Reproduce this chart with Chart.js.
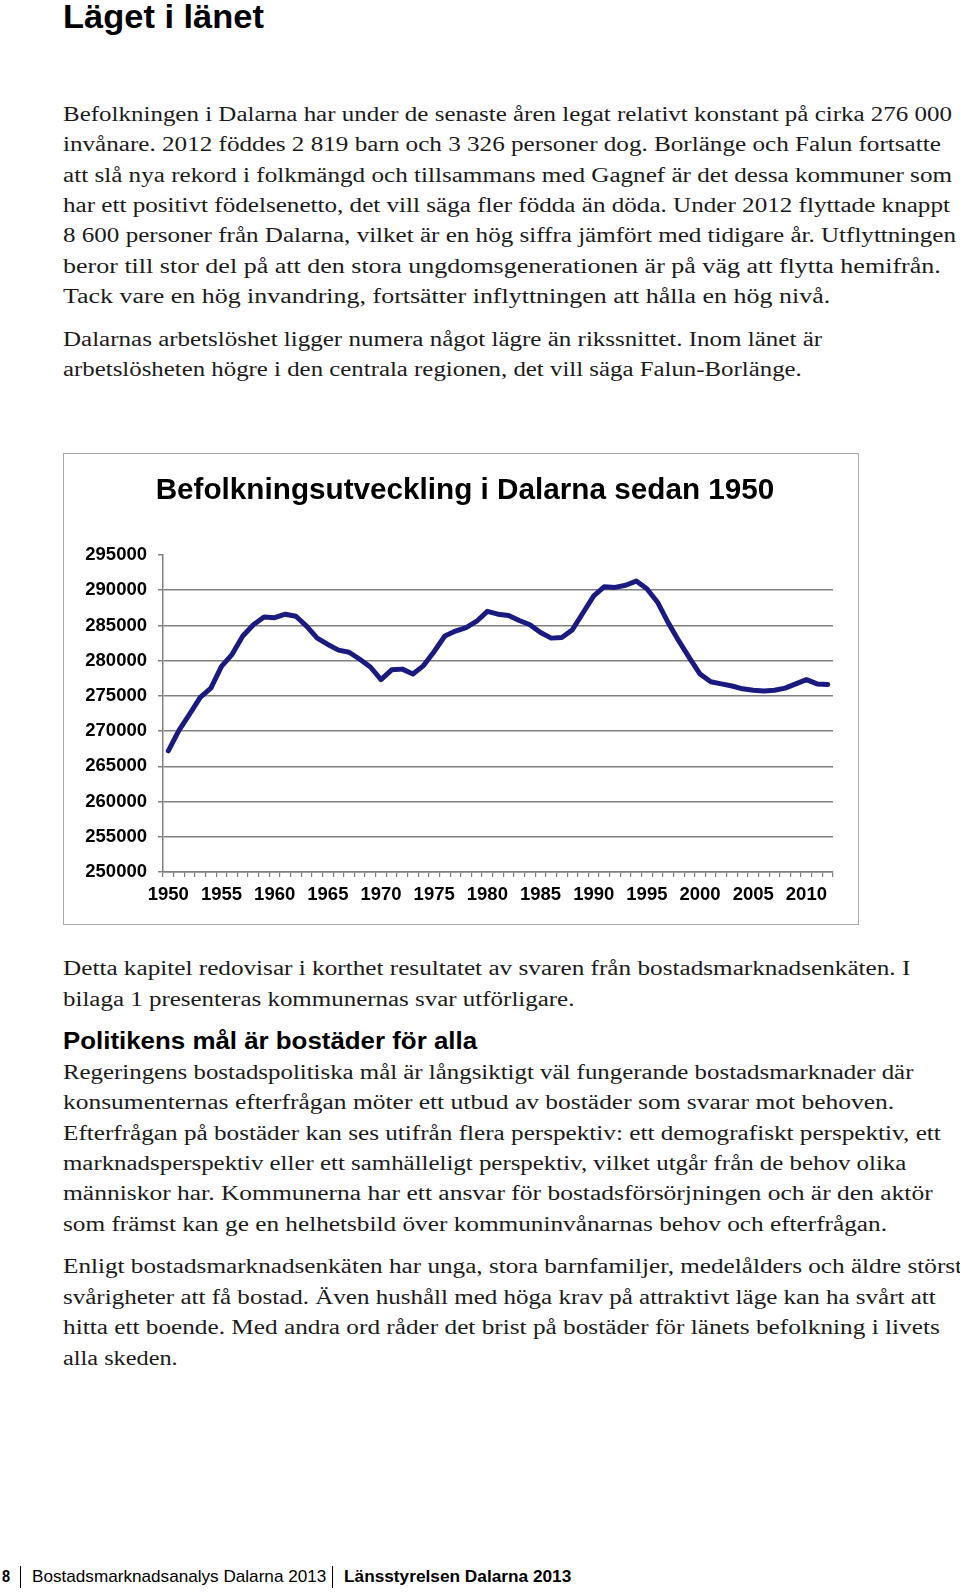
<!DOCTYPE html>
<html><head><meta charset="utf-8">
<script src="https://cdn.jsdelivr.net/npm/chart.js@4.4.1/dist/chart.umd.min.js"></script>
<style>
html,body{margin:0;padding:0;background:#fff;}
body{width:960px;height:1592px;position:relative;overflow:hidden;}
.t{position:absolute;white-space:nowrap;transform-origin:0 50%;color:#1b1b1b;height:30px;line-height:30px;}
.serif{font-family:"Liberation Serif","Times New Roman",serif;font-size:20.5px;}
.h1{font-family:"Liberation Sans",Arial,sans-serif;font-weight:bold;font-size:34px;color:#000;}
.h2{font-family:"Liberation Sans",Arial,sans-serif;font-weight:bold;font-size:23px;color:#000;}
.ft{font-family:"Liberation Sans",Arial,sans-serif;font-size:17px;color:#000;}
.ftb{font-family:"Liberation Sans",Arial,sans-serif;font-size:17px;font-weight:bold;color:#000;}
.bar{position:absolute;width:1px;background:#000;}
#box{position:absolute;left:63px;top:453px;width:794px;height:470px;border:1px solid #a8a8a8;}
#c{display:block;}
</style></head><body>
<div id="box"><canvas id="c" width="794" height="470"></canvas></div>
<div class="bar" style="left:20px;top:1566px;height:22px"></div>
<div class="bar" style="left:332px;top:1566px;height:22px"></div>
<script>
// ---- chart data ----
const years = [1950,1951,1952,1953,1954,1955,1956,1957,1958,1959,
  1960,1961,1962,1963,1964,1965,1966,1967,1968,1969,
  1970,1971,1972,1973,1974,1975,1976,1977,1978,1979,
  1980,1981,1982,1983,1984,1985,1986,1987,1988,1989,
  1990,1991,1992,1993,1994,1995,1996,1997,1998,1999,
  2000,2001,2002,2003,2004,2005,2006,2007,2008,2009,
  2010,2011,2012];
const population = [267200,270100,272400,274800,276100,279200,280900,283500,285100,286200,
  286100,286600,286300,284900,283200,282300,281500,281200,280200,279100,
  277300,278700,278800,278100,279300,281300,283500,284200,284700,285600,
  287000,286600,286400,285700,285100,284000,283200,283300,284400,286800,
  289200,290500,290400,290700,291300,290200,288300,285400,282800,280400,
  278100,277000,276700,276400,276000,275800,275700,275800,276100,276700,
  277300,276700,276600];
const xTickLabels = [1950,1955,1960,1965,1970,1975,1980,1985,1990,1995,2000,2005,2010];
const yTickValues = [250000,255000,260000,265000,270000,275000,280000,285000,290000,295000];
const chartTitle = 'Befolkningsutveckling i Dalarna sedan 1950';

// ---- page text ----
const S = 960/946;
const lines = [
 ['h1','Läget i länet',62,16,260],
 ['serif','Befolkningen i Dalarna har under de senaste åren legat relativt konstant på cirka 276 000',62,112,938],
 ['serif','invånare. 2012 föddes 2 819 barn och 3 326 personer dog. Borlänge och Falun fortsatte',62,142,927],
 ['serif','att slå nya rekord i folkmängd och tillsammans med Gagnef är det dessa kommuner som',62,172,938],
 ['serif','har ett positivt födelsenetto, det vill säga fler födda än döda. Under 2012 flyttade knappt',62,202,936],
 ['serif','8 600 personer från Dalarna, vilket är en hög siffra jämfört med tidigare år. Utflyttningen',62,232,942],
 ['serif','beror till stor del på att den stora ungdomsgenerationen är på väg att flytta hemifrån.',62,262,927],
 ['serif','Tack vare en hög invandring, fortsätter inflyttningen att hålla en hög nivå.',62,292,818],
 ['serif','Dalarnas arbetslöshet ligger numera något lägre än rikssnittet. Inom länet är',62,334,810],
 ['serif','arbetslösheten högre i den centrala regionen, det vill säga Falun-Borlänge.',62,364,790],
 ['serif','Detta kapitel redovisar i korthet resultatet av svaren från bostadsmarknadsenkäten. I',62,954,897],
 ['serif','bilaga 1 presenteras kommunernas svar utförligare.',62,984,566],
 ['h2','Politikens mål är bostäder för alla',62,1026,470],
 ['serif','Regeringens bostadspolitiska mål är långsiktigt väl fungerande bostadsmarknader där',62,1056,900],
 ['serif','konsumenternas efterfrågan möter ett utbud av bostäder som svarar mot behoven.',62,1086,881],
 ['serif','Efterfrågan på bostäder kan ses utifrån flera perspektiv: ett demografiskt perspektiv, ett',62,1116,927],
 ['serif','marknadsperspektiv eller ett samhälleligt perspektiv, vilket utgår från de behov olika',62,1146,893],
 ['serif','människor har. Kommunerna har ett ansvar för bostadsförsörjningen och är den aktör',62,1176,919],
 ['serif','som främst kan ge en helhetsbild över kommuninvånarnas behov och efterfrågan.',62,1206,874],
 ['serif','Enligt bostadsmarknadsenkäten har unga, stora barnfamiljer, medelålders och äldre störst',62,1248,948],
 ['serif','svårigheter att få bostad. Även hushåll med höga krav på attraktivt läge kan ha svårt att',62,1278,922],
 ['serif','hitta ett boende. Med andra ord råder det brist på bostäder för länets befolkning i livets',62,1308,926],
 ['serif','alla skeden.',62,1338,175],
 ['ftb','8',2,1554,10],
 ['ft','Bostadsmarknadsanalys Dalarna 2013',32,1554,322],
 ['ftb','Länsstyrelsen Dalarna 2013',339,1554,563]
];
lines.forEach(([cls,txt,x0,yc,x1])=>{
  const d=document.createElement('div');
  d.className='t '+cls;
  d.textContent=txt;
  d.style.left=(x0*S)+'px';
  d.style.top=(yc*S-15)+'px';
  document.body.appendChild(d);
  const w=d.getBoundingClientRect().width;
  const target=(x1-x0)*S;
  d.style.transform='scaleX('+(target/w).toFixed(4)+')';
});

// ---- chart ----
const gridGray = '#808080';
const titlePlugin = {
  id: 'pageTitle',
  afterDraw(chart) {
    const ctx = chart.ctx;
    ctx.save();
    ctx.font = 'bold 29.7px "Liberation Sans", Arial, sans-serif';
    ctx.fillStyle = '#000';
    ctx.textAlign = 'center';
    ctx.textBaseline = 'middle';
    ctx.fillText(chartTitle, 401, 37);
    ctx.restore();
  }
};
new Chart(document.getElementById('c'), {
  type: 'line',
  data: {
    labels: years,
    datasets: [{
      data: population,
      borderColor: '#1a1a80',
      borderWidth: 5,
      pointRadius: 0,
      tension: 0,
      fill: false,
      borderCapStyle: 'round',
      borderJoinStyle: 'round'
    }]
  },
  plugins: [titlePlugin],
  options: {
    responsive: false,
    devicePixelRatio: 1,
    animation: false,
    layout: { padding: { left: 0, right: 25, top: 101, bottom: 0 } },
    plugins: {
      legend: { display: false },
      tooltip: { enabled: false },
      title: { display: false }
    },
    scales: {
      x: {
        type: 'category',
        offset: true,
        afterFit: s => { s.height = 52; },
        border: { display: true, color: gridGray, width: 1.5 },
        grid: { offset: true, drawOnChartArea: false, drawTicks: true, tickLength: 5, color: gridGray, tickColor: gridGray, lineWidth: 1.2 },
        ticks: {
          autoSkip: false, maxRotation: 0, minRotation: 0, padding: 7, color: '#000',
          font: { family: '"Liberation Sans", Arial, sans-serif', size: 18.5, weight: 'bold' },
          callback: (v, i) => xTickLabels.includes(years[i]) ? String(years[i]) : ''
        }
      },
      y: {
        min: yTickValues[0],
        max: yTickValues[yTickValues.length - 1],
        afterFit: s => { s.width = 99; },
        afterBuildTicks: s => { s.ticks = yTickValues.map(v => ({ value: v })); },
        border: { display: true, color: gridGray, width: 1.5 },
        grid: {
          drawTicks: true, tickLength: 5, lineWidth: 1.5,
          color: c => (c.tick && c.tick.value === yTickValues[yTickValues.length - 1]) ? 'rgba(0,0,0,0)' : gridGray,
          tickColor: gridGray
        },
        ticks: {
          padding: 11, color: '#000',
          font: { family: '"Liberation Sans", Arial, sans-serif', size: 18.5, weight: 'bold' },
          callback: v => String(v)
        }
      }
    }
  }
});
</script>
</body></html>
